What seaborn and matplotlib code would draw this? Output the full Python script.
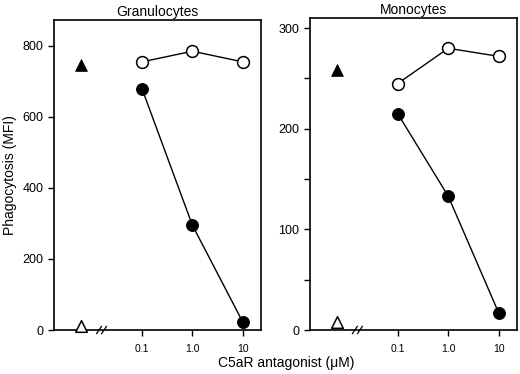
import numpy as np
import pandas as pd
import matplotlib
matplotlib.use('Agg')
import matplotlib.pyplot as plt
import seaborn as sns

sns.set_style('ticks')
plt.rcParams['font.family'] = ['Liberation Sans', 'DejaVu Sans']
for k in ['axes.edgecolor', 'xtick.color', 'ytick.color', 'text.color',
          'axes.labelcolor']:
    plt.rcParams[k] = 'black'

conc = [0.1, 1.0, 10]
conc_labels = ['0.1', '1.0', '10']

gran_open = [755, 785, 755]
gran_closed = [680, 295, 22]
gran_ctrl_pos = 745
gran_ctrl_neg = 12

mono_open = [245, 280, 272]
mono_closed = [215, 133, 17]
mono_ctrl_pos = 258
mono_ctrl_neg = 8

ctrl_x = -2.2  # position of the control group left of the axis break (log10 units)

fig = plt.figure(figsize=(5.2, 3.74), dpi=100)
ax1 = fig.add_axes([0.104, 0.1176, 0.398, 0.829])
ax2 = fig.add_axes([0.596, 0.1176, 0.398, 0.834])


def draw_panel(ax, open_vals, closed_vals, pos, neg, ylim, yticks, minor, title):
    logx = np.log10(conc)
    df = pd.DataFrame({'x': logx, 'open': open_vals, 'closed': closed_vals})
    sns.lineplot(data=df, x='x', y='closed', ax=ax, color='black', lw=1,
                 marker='o', markersize=8.5, markerfacecolor='black',
                 markeredgecolor='black')
    sns.lineplot(data=df, x='x', y='open', ax=ax, color='black', lw=1,
                 marker='o', markersize=8.5, markerfacecolor='white',
                 markeredgecolor='black', markeredgewidth=1.1)
    sns.scatterplot(x=[ctrl_x], y=[pos], ax=ax, marker='^', s=70,
                    color='black', edgecolor='black', zorder=3)
    sns.scatterplot(x=[ctrl_x], y=[neg], ax=ax, marker='^', s=70,
                    facecolor='white', edgecolor='black', linewidth=1.1,
                    zorder=3, clip_on=False)
    ax.set_xlim(-2.74, 1.36)
    ax.set_ylim(*ylim)
    ax.set_xticks(logx)
    ax.set_xticklabels(conc_labels, fontsize=7.5)
    ax.set_yticks(yticks)
    ax.set_yticks(minor, minor=True)
    ax.tick_params(axis='y', labelsize=9, length=4, width=1, direction='out')
    ax.tick_params(axis='y', which='minor', length=4, width=1)
    ax.tick_params(axis='x', length=4, width=1, pad=6)
    for s in ax.spines.values():
        s.set_linewidth(1.2)
        s.set_color('black')
    ax.set_xlabel('')
    ax.set_ylabel('')
    ax.set_title(title, fontsize=10, pad=3)
    # axis break mark
    for dx in (-0.05, 0.05):
        ax.plot([-1.8 + dx - 0.05, -1.8 + dx + 0.05], [-0.012, 0.012],
                transform=ax.get_xaxis_transform(), color='black', lw=0.9,
                clip_on=False)


draw_panel(ax1, gran_open, gran_closed, gran_ctrl_pos, gran_ctrl_neg,
           (0, 873), [0, 200, 400, 600, 800], [], 'Granulocytes')
draw_panel(ax2, mono_open, mono_closed, mono_ctrl_pos, mono_ctrl_neg,
           (0, 310), [0, 100, 200, 300], [50, 150, 250], 'Monocytes')

ax1.set_ylabel('Phagocytosis (MFI)', fontsize=10, labelpad=4)
fig.text(0.55, 0.02, 'C5aR antagonist (\u03bcM)', ha='center', fontsize=10)

fig.savefig('out.png', dpi=100)
